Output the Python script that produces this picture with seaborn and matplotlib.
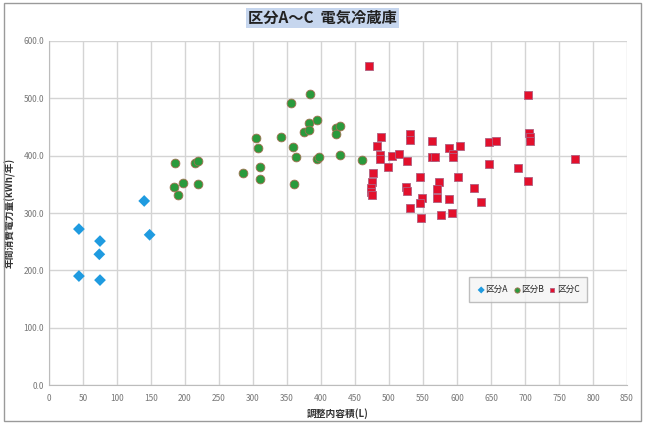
import pandas as pd
import numpy as np
import matplotlib.pyplot as plt
import seaborn as sns

# 区分A
a_vol = [44, 44, 75, 74, 75, 140, 148]
a_kwh = [272, 190, 251, 228, 183, 321, 262]

# 区分B
b_vol = [186, 214, 219, 184, 189, 197, 219, 286, 305, 308, 310, 310, 341, 356,
         384, 359, 363, 360, 382, 394, 375, 382, 394, 397, 422, 428, 422, 428, 461]
b_kwh = [388, 387, 390, 345, 331, 352, 351, 370, 430, 414, 380, 360, 433, 491,
         507, 415, 397, 350, 457, 463, 441, 444, 394, 397, 448, 452, 437, 402, 392]

# 区分C
c_vol = [470, 488, 483, 487, 487, 504, 515, 526, 531, 531, 499, 477, 475, 473,
         474, 475, 545, 525, 527, 548, 545, 531, 563, 563, 568, 574, 570, 570,
         588, 588, 594, 594, 602, 605, 647, 657, 647, 625, 635, 593, 706, 708,
         708, 705, 689, 704, 773, 577, 547]
c_kwh = [556, 433, 417, 401, 394, 400, 403, 391, 437, 427, 380, 370, 354, 343,
         337, 331, 363, 345, 338, 327, 317, 309, 426, 398, 397, 354, 341, 326,
         324, 414, 403, 397, 362, 417, 423, 425, 385, 343, 320, 300, 440, 433,
         425, 505, 378, 355, 395, 296, 291]

groups = [('区分A', a_vol, a_kwh, '#1f9be0', 'D', 'none', 36),
          ('区分B', b_vol, b_kwh, '#2a9a3c', 'o', '#a07050', 40),
          ('区分C', c_vol, c_kwh, '#e3102c', 's', '#b06080', 34)]

sns.set_style('white')
plt.rcParams['font.family'] = ['Noto Sans CJK JP', 'DejaVu Sans']

fig = plt.figure(figsize=(6.45, 4.23), dpi=100)
ax = fig.add_axes([49 / 645, 38 / 423, 578 / 645, 344 / 423])

for name, xs, ys, col, mk, ec, sz in groups:
    d = pd.DataFrame({'vol': xs, 'kwh': ys})
    sns.scatterplot(data=d, x='vol', y='kwh', color=col, marker=mk, s=sz,
                    edgecolor=ec, linewidth=0.6, ax=ax, zorder=3, label=name)

ax.set_xlim(0, 850)
ax.set_ylim(0, 600)
ax.set_xticks(np.arange(0, 851, 50))
ax.set_yticks(np.arange(0, 601, 100))
ax.set_yticklabels(['%.1f' % v for v in np.arange(0, 601, 100)])
ax.grid(True, color='#d4d4d4', linewidth=1)
ax.set_axisbelow(True)
for s in ['top', 'right']:
    ax.spines[s].set_visible(False)
for s in ['left', 'bottom']:
    ax.spines[s].set_color('#bcbcbc')
ax.tick_params(axis='both', labelsize=6, colors='#777777', length=3)
ax.tick_params(axis='y', length=0)

ax.set_xlabel('調整内容積(L)', fontsize=7, fontweight='bold', color='#333333', labelpad=4)
ax.set_ylabel('年間消費電力量(kWh/年)', fontsize=7, fontweight='bold', color='#333333', labelpad=6)

leg = ax.legend(loc='center', bbox_to_anchor=(0.829, 0.277), ncol=3, fontsize=6.2,
                frameon=True, fancybox=False, handletextpad=0.0, columnspacing=0.5,
                handlelength=1.0, borderpad=0.9, borderaxespad=0, markerscale=0.6)
leg.get_frame().set_edgecolor('#b0b0b0')
leg.get_frame().set_facecolor('#f4f4f4')

fig.text(0.5, 0.957, '区分A～C  電気冷蔵庫', ha='center', va='center', fontsize=11,
         fontweight='bold', color='#222222',
         bbox=dict(boxstyle='square,pad=0.15', facecolor='#c6d6ee', edgecolor='none'))

border = plt.Rectangle((0.006, 0.004), 0.988, 0.99, transform=fig.transFigure,
                       fill=False, edgecolor='#9a9a9a', linewidth=1)
fig.patches.append(border)

fig.savefig('out.png', dpi=100)
